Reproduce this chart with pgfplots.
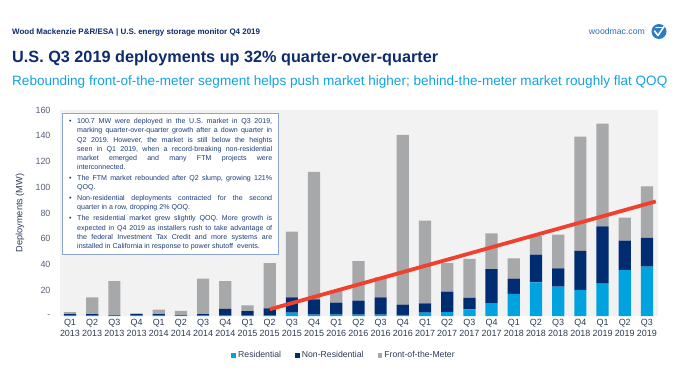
\documentclass[border=0pt]{standalone}
\usepackage{fontspec}
\setmainfont{Liberation Sans}
\usepackage{pgfplots}
\usepackage{pgfplotstable}
\pgfplotsset{compat=1.18}
\definecolor{res}{HTML}{00A3E0}
\definecolor{nonres}{HTML}{002D72}
\definecolor{ftm}{HTML}{A7A8AA}
\definecolor{bggray}{HTML}{F2F2F2}
\definecolor{trend}{HTML}{F0412F}
\definecolor{navy}{HTML}{0E2B6B}
\definecolor{sub}{HTML}{14A3E0}
\definecolor{boxtext}{HTML}{1D3C7C}
\definecolor{boxborder}{HTML}{8EA6D2}
\definecolor{ticktext}{HTML}{2E3B55}
\definecolor{linkblue}{HTML}{2B6CB5}
\definecolor{logoblue}{HTML}{2A7BC4}

\pgfplotstableread{
x res nonres ftm
0 0.2 1.3 1.5
1 0.2 1.3 13
2 0.1 0.4 26.5
3 0.2 1.3 0.5
4 0.2 1.3 3.5
5 0.1 0.4 3.5
6 0.2 1.3 27.5
7 0.3 5.2 21.5
8 0.3 3.5 4.5
9 0.3 5.7 35
10 2.6 11.9 51
11 1.0 12 99
12 1.0 9.3 9.7
13 1.0 11 30.7
14 1.0 13.5 15.5
15 0.8 8 131.8
16 2.6 7.2 64.2
17 3.1 15.9 22
18 5.2 8.8 30.3
19 10.1 26.4 27.7
20 17.1 11.9 15.8
21 26.2 21.4 14.4
22 22.8 14.2 26.2
23 20.2 30.3 88.8
24 25.1 44.5 79.8
25 35.7 22.8 17.9
26 38.3 22.3 40.1
}\datatable

\begin{document}
\begin{tikzpicture}[x=1bp,y=1bp]
\fill[white] (0,0) rectangle (676,375);
% header
\node[anchor=base west, inner sep=0, text=navy, font=\bfseries\fontsize{8}{9.6}\selectfont] at (12,341) {Wood Mackenzie P\&R/ESA | U.S. energy storage monitor Q4 2019};
\node[anchor=base east, inner sep=0, text=linkblue, font=\fontsize{8.7}{10}\selectfont] at (645,341) {woodmac.com};
\fill[logoblue] (659,343.5) circle (7.5);
\draw[white, line width=1.6bp, line cap=round, line join=round] (654.5,344) -- (658,339.5) -- (664,348.5);
\draw[white, line width=1.1bp, line cap=round] (656,347.5) -- (662.5,347.5);
\node[anchor=base west, inner sep=0, text=navy, font=\bfseries\fontsize{16.3}{19}\selectfont] at (12,312.5) {U.S. Q3 2019 deployments up 32\% quarter-over-quarter};
\node[anchor=base west, inner sep=0, text=sub, font=\fontsize{13.6}{16}\selectfont] at (12,289.5) {Rebounding front-of-the-meter segment helps push market higher; behind-the-meter market roughly flat QOQ};

\begin{axis}[
  at={(60bp,59bp)}, anchor=south west,
  width=598bp, height=206bp, scale only axis,
  xmin=-0.45, xmax=26.5, ymin=0, ymax=160,
  ybar stacked, bar width=0.55,
  axis background/.style={fill=bggray},
  axis line style={draw=none},
  tick style={draw=none},
  ytick={0,20,...,160},
  yticklabels={{-},20,40,60,80,100,120,140,160},
  yticklabel style={font=\fontsize{9}{10}\selectfont, text=ticktext!80, xshift=-6bp},
  xtick={0,...,26},
  xticklabels={{Q1\\2013},{Q2\\2013},{Q3\\2013},{Q4\\2013},{Q1\\2014},{Q2\\2014},{Q3\\2014},{Q4\\2014},{Q1\\2015},{Q2\\2015},{Q3\\2015},{Q4\\2015},{Q1\\2016},{Q2\\2016},{Q3\\2016},{Q4\\2016},{Q1\\2017},{Q2\\2017},{Q3\\2017},{Q4\\2017},{Q1\\2018},{Q2\\2018},{Q3\\2018},{Q4\\2018},{Q1\\2019},{Q2\\2019},{Q3\\2019}},
  xticklabel style={align=center, font=\fontsize{9}{11}\selectfont, text=ticktext},
  ylabel={Deployments (MW)},
  every axis y label/.style={at={(rel axis cs:-0.067,0.5)}, rotate=90, anchor=center, font=\fontsize{9.2}{10}\selectfont, text=ticktext},
  legend style={at={(0.475,-0.19)}, anchor=center, draw=none, fill=none, legend columns=3,
    font=\fontsize{8.7}{10}\selectfont, text=ticktext,
    /tikz/every even column/.append style={column sep=12bp}},
  legend cell align=left,
]
\addplot[fill=res, draw=none, legend image code/.code={\fill[res] (0bp,-2.4bp) rectangle (4.8bp,2.4bp);}] table[x=x,y=res]{\datatable};
\addlegendentry{Residential}
\addplot[fill=nonres, draw=none, legend image code/.code={\fill[nonres] (0bp,-2.4bp) rectangle (4.8bp,2.4bp);}] table[x=x,y=nonres]{\datatable};
\addlegendentry{Non-Residential}
\addplot[fill=ftm, draw=none, legend image code/.code={\fill[ftm] (0bp,-2.4bp) rectangle (4.8bp,2.4bp);}] table[x=x,y=ftm]{\datatable};
\addlegendentry{Front-of-the-Meter}
\end{axis}

\begin{axis}[
  at={(60bp,59bp)}, anchor=south west,
  width=598bp, height=206bp, scale only axis,
  xmin=-0.45, xmax=26.5, ymin=0, ymax=160,
  hide axis, clip=false,
]
\addplot[trend, line width=3.8bp] coordinates {(9,5.2) (26.4,89)};
\end{axis}

% text box
\node[draw=boxborder, line width=0.8bp, fill=white, anchor=north west, minimum width=216bp, minimum height=141bp, inner sep=0] at (62,262) {};
\node[anchor=north west, inner sep=0, text width=203bp, align=justify, text=boxtext, font=\fontsize{7.1}{9.2}\selectfont] at (69,256.5) {%
\frenchspacing\setlength{\parskip}{1.8bp}\hyphenpenalty=10000 \exhyphenpenalty=10000 \tolerance=9999
\noindent\hangindent=8bp\hangafter=1\makebox[8bp][l]{\textbullet}100.7 MW were deployed in the U.S. market in Q3 2019,\linebreak marking quarter-over-quarter growth after a down quarter in\linebreak Q2 2019. However, the market is still below the heights\linebreak seen in Q1 2019, when a record-breaking non-residential\linebreak market emerged and many FTM projects were\linebreak interconnected.\par
\noindent\hangindent=8bp\hangafter=1\makebox[8bp][l]{\textbullet}The FTM market rebounded after Q2 slump, growing 121\%\linebreak QOQ.\par
\noindent\hangindent=8bp\hangafter=1\makebox[8bp][l]{\textbullet}Non-residential deployments contracted for the second\linebreak quarter in a row, dropping 2\% QOQ.\par
\noindent\hangindent=8bp\hangafter=1\makebox[8bp][l]{\textbullet}The residential market grew slightly QOQ. More growth is\linebreak expected in Q4 2019 as installers rush to take advantage of\linebreak the federal Investment Tax Credit and more systems are\linebreak installed in California in response to power shutoff~ events.\par};

\pgfresetboundingbox
\path[use as bounding box] (0,0) rectangle (676,375);
\end{tikzpicture}
\end{document}
